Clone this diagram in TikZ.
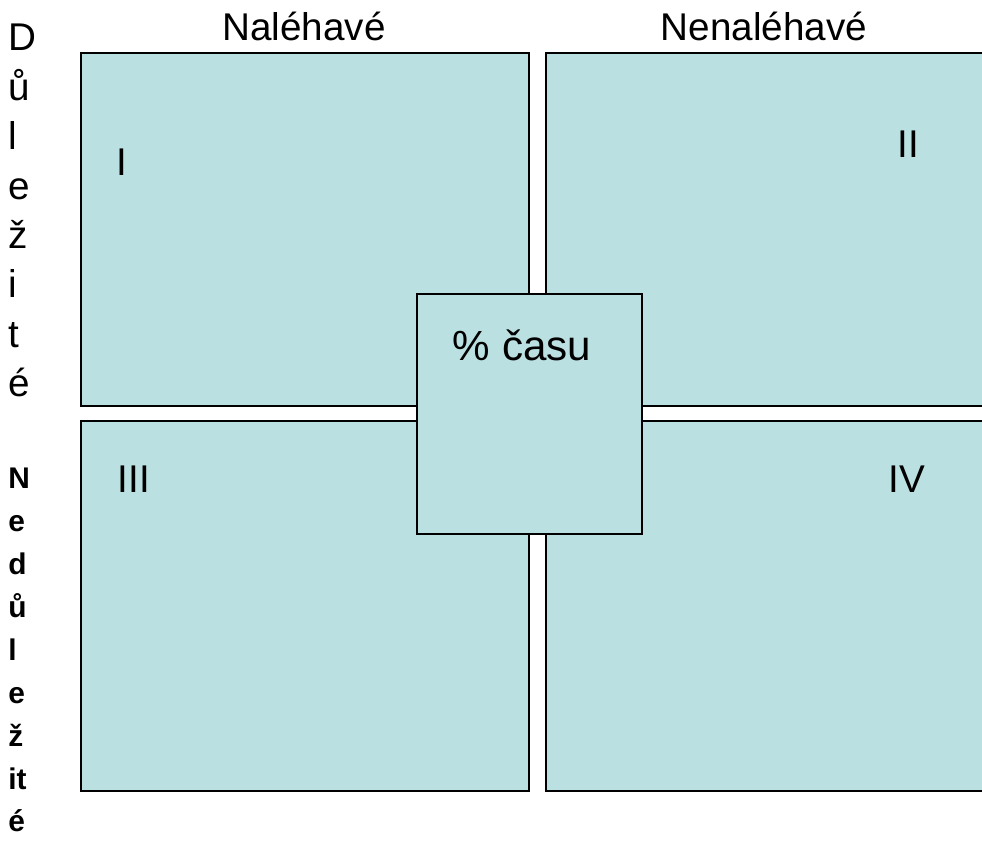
\documentclass[tikz,border=0pt]{standalone}
\usepackage{fontspec}
\setmainfont{Liberation Sans}
\definecolor{quadfill}{RGB}{187,224,226}

\begin{document}
\begin{tikzpicture}[x=0.02cm, y=-0.02cm,
    quad/.style={rectangle, draw, line width=1.3pt, fill=quadfill, inner sep=0pt, anchor=north west},
    label/.style={inner sep=0pt, anchor=base, font=\fontsize{22}{26}\selectfont}]
    \useasboundingbox (0,0) rectangle (982,853);
    \clip (0,0) rectangle (982,853);
    % Quadrants
    \node (urgimp) [quad, minimum width=8.96cm, minimum height=7.06cm] at (80,52) {};
    \node (noturgimp) [quad, minimum width=9.2cm, minimum height=7.06cm] at (545,52) {};
    \node (urgnotimp) [quad, minimum width=8.96cm, minimum height=7.4cm] at (80,420) {};
    \node (noturgnotimp) [quad, minimum width=9.2cm, minimum height=7.4cm] at (545,420) {};
    \node (time) [quad, minimum width=4.5cm, minimum height=4.8cm] at (416,293) {};
    % Headings
    \node (urgent) [label] at (304,40) {Naléhavé};
    \node (noturgent) [label] at (764,40) {Nenaléhavé};
    \node (important) [inner sep=0pt, anchor=north west, align=left, font=\fontsize{22}{28.1}\selectfont] at (8,24)
        {D\\ů\\l\\e\\ž\\i\\t\\é};
    \node (notimportant) [inner sep=0pt, anchor=north west, align=left, font=\fontsize{17}{24.4}\selectfont\bfseries] at (8,468)
        {N\\e\\d\\ů\\l\\e\\ž\\it\\é};
    % Labels
    \node (numI) [label] at (122,175) {I};
    \node (numII) [label] at (908,157) {II};
    \node (numIII) [label] at (134,492) {III};
    \node (numIV) [label] at (907,492) {IV};
    \node (share) [label, font=\fontsize{24}{28}\selectfont] at (522,360) {\% času};
\end{tikzpicture}
\end{document}
